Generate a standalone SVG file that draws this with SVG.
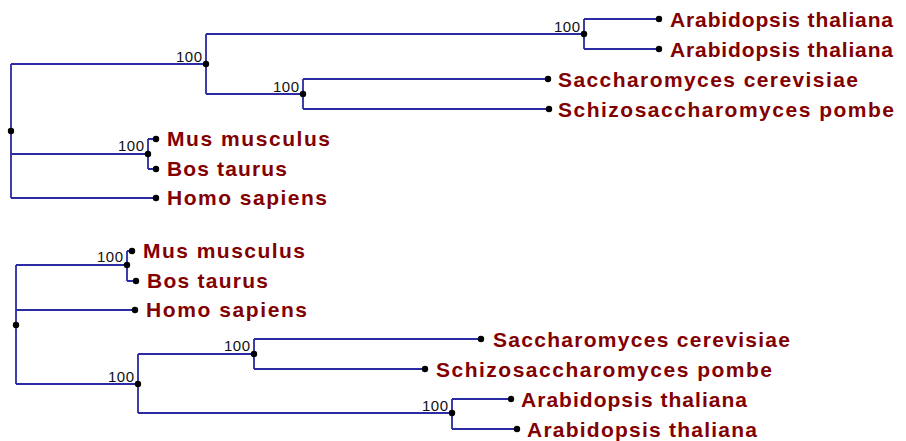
<svg xmlns="http://www.w3.org/2000/svg" width="906" height="441" viewBox="0 0 906 441">
<style>
.e{fill:none;stroke:#2b2ba3;stroke-width:1.8}
.d{fill:#000}
.t{font-family:"Liberation Sans",Arial,sans-serif;font-weight:bold;font-size:21px;fill:#820000}
.b{font-family:"Liberation Sans",Arial,sans-serif;font-size:15px;fill:#111;text-anchor:end}
</style>
<rect width="906" height="441" fill="#fff"/>
<g id="connectors">
<path class="e" d="M11,64V198M11,64H206M206,34V94M206,34H584M584,19V49M584,19H659M584,49H659M206,94H303M303,79V109M303,79H548M303,109H549M11,154H148M148,139V169M148,139H156M148,169H156M11,198H156"/>
<path class="e" d="M16,265V384M16,265H127M127,251V281M127,251H132M127,281H136M16,310H135M16,384H138M138,354V413M138,354H254M254,339V369M254,339H481M254,369H425M138,413H452M452,399V429M452,399H511M452,429H517"/>
</g>
<g id="top-root"><circle class="d" cx="11" cy="131" r="3.2"/></g>
<g id="top-n1"><circle class="d" cx="206" cy="64" r="3.2"/><text class="b" x="202" y="62" textLength="26">100</text></g>
<g id="top-n2"><circle class="d" cx="584" cy="34" r="3.2"/><text class="b" x="580" y="32" textLength="26">100</text></g>
<g id="top-n3"><circle class="d" cx="303" cy="94" r="3.2"/><text class="b" x="299" y="92" textLength="26">100</text></g>
<g id="top-n4"><circle class="d" cx="148" cy="154" r="3.2"/><text class="b" x="144" y="151" textLength="26">100</text></g>
<g id="top-arab1"><circle class="d" cx="659" cy="19" r="3.2"/><text class="t" x="670" y="27" textLength="223" lengthAdjust="spacing">Arabidopsis thaliana</text></g>
<g id="top-arab2"><circle class="d" cx="659" cy="49" r="3.2"/><text class="t" x="670" y="57" textLength="223" lengthAdjust="spacing">Arabidopsis thaliana</text></g>
<g id="top-sacch"><circle class="d" cx="548" cy="79" r="3.2"/><text class="t" x="558" y="87" textLength="300" lengthAdjust="spacing">Saccharomyces cerevisiae</text></g>
<g id="top-schizo"><circle class="d" cx="549" cy="109" r="3.2"/><text class="t" x="558" y="117" textLength="336" lengthAdjust="spacing">Schizosaccharomyces pombe</text></g>
<g id="top-mus"><circle class="d" cx="156" cy="139" r="3.2"/><text class="t" x="167" y="146" textLength="163" lengthAdjust="spacing">Mus musculus</text></g>
<g id="top-bos"><circle class="d" cx="156" cy="169" r="3.2"/><text class="t" x="167" y="176" textLength="120" lengthAdjust="spacing">Bos taurus</text></g>
<g id="top-homo"><circle class="d" cx="156" cy="198" r="3.2"/><text class="t" x="167" y="205" textLength="160" lengthAdjust="spacing">Homo sapiens</text></g>
<g id="bot-root"><circle class="d" cx="16" cy="325" r="3.2"/></g>
<g id="bot-n1"><circle class="d" cx="127" cy="265" r="3.2"/><text class="b" x="123" y="262" textLength="26">100</text></g>
<g id="bot-n2"><circle class="d" cx="138" cy="384" r="3.2"/><text class="b" x="134" y="382" textLength="26">100</text></g>
<g id="bot-n3"><circle class="d" cx="254" cy="354" r="3.2"/><text class="b" x="250" y="351" textLength="26">100</text></g>
<g id="bot-n4"><circle class="d" cx="452" cy="413" r="3.2"/><text class="b" x="448" y="411" textLength="26">100</text></g>
<g id="bot-mus"><circle class="d" cx="132" cy="251" r="3.2"/><text class="t" x="143" y="258" textLength="162" lengthAdjust="spacing">Mus musculus</text></g>
<g id="bot-bos"><circle class="d" cx="136" cy="281" r="3.2"/><text class="t" x="147" y="288" textLength="121" lengthAdjust="spacing">Bos taurus</text></g>
<g id="bot-homo"><circle class="d" cx="135" cy="310" r="3.2"/><text class="t" x="146" y="317" textLength="161" lengthAdjust="spacing">Homo sapiens</text></g>
<g id="bot-sacch"><circle class="d" cx="481" cy="339" r="3.2"/><text class="t" x="493" y="347" textLength="297" lengthAdjust="spacing">Saccharomyces cerevisiae</text></g>
<g id="bot-schizo"><circle class="d" cx="425" cy="369" r="3.2"/><text class="t" x="436" y="377" textLength="336" lengthAdjust="spacing">Schizosaccharomyces pombe</text></g>
<g id="bot-arab1"><circle class="d" cx="511" cy="399" r="3.2"/><text class="t" x="521" y="407" textLength="226" lengthAdjust="spacing">Arabidopsis thaliana</text></g>
<g id="bot-arab2"><circle class="d" cx="517" cy="429" r="3.2"/><text class="t" x="527" y="437" textLength="230" lengthAdjust="spacing">Arabidopsis thaliana</text></g>
</svg>
